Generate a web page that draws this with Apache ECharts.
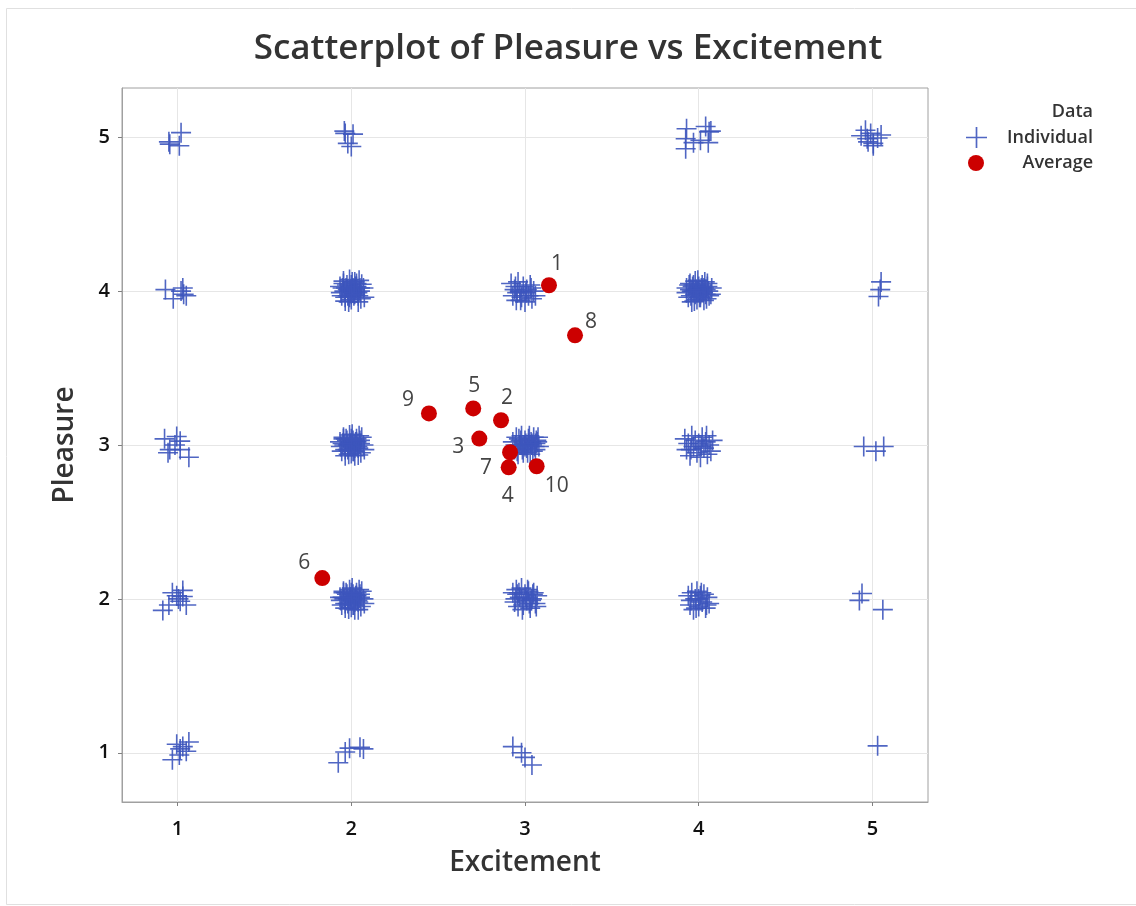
<!DOCTYPE html>
<html>
<head>
<meta charset="utf-8">
<script src="https://cdn.jsdelivr.net/npm/echarts@6/dist/echarts.min.js"></script>
<style>
html,body{margin:0;padding:0;background:#fff;}
#chart{width:1136px;height:906px;}
</style>
</head>
<body>
<div id="chart"></div>
<script>
// ---------- DATA ----------
const xTicks = [1, 2, 3, 4, 5];
const yTicks = [1, 2, 3, 4, 5];

// Individual (jittered) responses, grouped by cell [Excitement, Pleasure]
const cell_1_5 = [[1.02,5.03],[0.95,4.97],[1.01,4.945],[0.955,4.955]];
const cell_2_5 = [[1.96,5.04],[2.01,5.02],[2.00,4.94],[1.98,4.96],[1.965,5.025]];
const cell_4_5 = [[3.925,4.99],[3.925,4.925],[3.97,4.965],[4.01,4.98],[4.04,5.07],[4.055,4.965],[4.07,5.04],[4.06,5.035],[3.93,5.055]];
const cell_5_5 = [[4.935,5.01],[4.96,5.045],[4.97,4.99],[4.99,5.025],[5.005,4.96],[5.03,4.995],[5.05,5.015],[5.005,4.945],[4.975,4.97]];

const cell_1_4 = [[0.93,4.01],[0.975,3.95],[1.02,4.00],[1.035,3.98],[1.05,3.97],[1.03,4.02]];
const cell_2_4 = [[1.935,4.03],[1.945,3.97],[1.955,4.065],[1.965,3.935],[1.98,4.01],[1.99,4.075],[2.00,3.945],[2.01,4.02],[2.02,3.98],[2.03,4.05],[2.04,3.93],[2.05,4.00],[2.06,4.045],[2.075,3.96],[1.94,3.99],[1.955,4.05],[1.965,3.96],[1.975,4.04],[1.985,3.93],[1.995,4.00],[2.005,4.06],[2.015,3.97],[2.025,4.03],[2.035,3.99],[2.045,4.07],[2.055,3.95],[2.07,4.02],[1.96,4.00],[1.98,3.97],[2.00,4.04],[2.02,4.01],[2.04,3.97],[1.97,4.02],[2.01,3.99],[2.03,4.03],[1.99,3.96],[2.05,4.02],[1.95,4.02],[2.00,3.98],[2.02,4.06]];
const cell_3_4 = [[2.92,4.05],[2.93,3.97],[2.94,4.01],[2.95,3.94],[2.96,4.06],[2.97,4.00],[2.98,3.96],[2.99,4.03],[3.00,3.93],[3.01,4.01],[3.02,3.97],[3.03,4.04],[3.04,3.95],[3.05,4.00],[3.06,3.97],[2.945,4.03],[2.975,3.94],[3.005,3.99],[3.035,4.02],[2.955,3.99]];
const cell_4_4 = [[3.93,4.02],[3.94,3.96],[3.95,4.05],[3.96,3.93],[3.97,4.00],[3.98,4.065],[3.99,3.945],[4.00,4.03],[4.01,3.98],[4.02,4.04],[4.03,3.94],[4.04,4.01],[4.05,4.05],[4.06,3.97],[4.075,4.02],[3.93,3.99],[3.945,4.04],[3.955,3.97],[3.965,4.03],[3.975,3.935],[3.985,4.01],[3.995,4.07],[4.005,3.96],[4.015,4.02],[4.025,3.99],[4.035,4.06],[4.045,3.95],[4.055,4.00],[4.07,3.98],[3.96,4.00],[3.98,3.98],[4.00,4.01],[4.02,4.00],[4.04,3.98],[3.97,4.04],[4.01,3.96],[4.03,4.02],[3.99,4.00],[4.05,4.03],[3.95,4.01]];
const cell_5_4 = [[5.05,4.06],[5.045,4.01],[5.035,3.965]];

const cell_1_3 = [[0.925,3.04],[0.945,2.95],[0.985,3.00],[1.015,2.97],[1.065,2.92],[0.955,2.97],[0.995,3.055],[1.015,3.025]];
const cell_2_3 = [[1.935,3.02],[1.945,2.96],[1.955,3.05],[1.965,2.93],[1.98,3.00],[1.99,3.065],[2.00,2.945],[2.01,3.03],[2.02,2.98],[2.03,3.04],[2.04,2.935],[2.05,3.01],[2.06,3.05],[2.075,2.97],[1.94,2.99],[1.955,3.04],[1.965,2.97],[1.975,3.03],[1.985,2.94],[1.995,3.01],[2.005,3.07],[2.015,2.96],[2.025,3.02],[2.035,2.99],[2.045,3.06],[2.055,2.95],[2.07,3.00],[1.96,3.00],[1.98,2.97],[2.00,3.01],[2.02,3.00],[2.04,2.98],[1.97,3.04],[2.01,2.96],[2.03,3.02],[1.99,3.00],[2.05,3.03],[1.95,3.01],[2.00,3.04],[2.02,2.93]];
const cell_3_3 = [[2.93,3.02],[2.94,2.97],[2.95,3.05],[2.96,2.94],[2.97,3.00],[2.98,3.06],[2.99,2.95],[3.00,3.03],[3.01,2.98],[3.02,3.04],[3.03,2.94],[3.04,3.01],[3.05,3.05],[3.06,2.97],[3.07,3.02],[3.08,2.99],[2.945,3.00],[2.965,3.04],[2.985,2.97],[3.005,3.01],[3.025,3.06],[3.045,2.96],[3.065,3.03],[2.955,2.96],[2.975,3.03],[2.995,3.00],[3.015,2.95],[3.035,3.02],[3.055,2.99],[3.075,3.05],[3.00,2.99],[3.02,3.01],[2.98,3.00],[3.04,3.00],[3.06,3.01]];
const cell_4_3 = [[3.92,3.04],[3.93,2.97],[3.94,3.01],[3.95,2.93],[3.96,3.06],[3.97,2.99],[3.98,3.03],[3.99,2.95],[4.00,3.01],[4.01,2.92],[4.02,3.05],[4.03,2.98],[4.04,3.02],[4.05,2.94],[4.06,3.00],[4.07,2.96],[4.08,3.03],[3.955,2.97],[4.015,2.99],[4.045,3.06]];
const cell_5_3 = [[4.95,2.99],[5.02,2.96],[5.065,2.99]];

const cell_1_2 = [[0.915,1.925],[0.95,1.96],[0.97,2.04],[0.995,2.02],[1.015,1.985],[1.03,2.055],[1.05,1.96],[1.005,2.00],[1.03,2.015]];
const cell_2_2 = [[1.935,2.01],[1.945,1.96],[1.955,2.05],[1.965,1.94],[1.98,2.00],[1.99,2.06],[2.00,1.945],[2.01,2.03],[2.02,1.98],[2.03,2.04],[2.04,1.93],[2.05,2.01],[2.06,2.05],[2.075,1.97],[1.94,1.99],[1.955,2.04],[1.965,1.97],[1.975,2.03],[1.985,1.935],[1.995,2.01],[2.005,2.07],[2.015,1.96],[2.025,2.02],[2.035,1.99],[2.045,2.06],[2.055,1.95],[2.07,2.00],[1.96,2.00],[1.98,1.97],[2.00,2.01],[2.02,2.00],[2.04,1.98],[1.97,2.04],[2.01,1.96],[2.03,2.02],[1.99,2.00],[2.05,2.03],[1.95,2.01],[2.00,2.04],[2.02,1.93]];
const cell_3_2 = [[2.93,2.04],[2.94,1.98],[2.95,2.06],[2.96,1.95],[2.97,2.01],[2.98,2.07],[2.99,1.96],[3.00,2.03],[3.01,1.99],[3.02,2.05],[3.03,1.94],[3.04,2.00],[3.05,2.04],[3.06,1.97],[3.07,2.02],[2.945,2.00],[2.965,2.04],[2.985,1.93],[3.005,2.01],[3.025,1.97],[3.045,2.03],[3.065,1.95],[2.955,2.03],[3.015,2.06],[3.035,1.99]];
const cell_4_2 = [[3.94,2.02],[3.95,1.96],[3.96,2.04],[3.97,1.93],[3.98,2.00],[3.99,2.05],[4.00,1.95],[4.01,2.02],[4.02,1.98],[4.03,2.03],[4.04,1.94],[4.05,2.01],[4.06,1.97],[3.955,1.99],[3.985,1.94],[4.015,2.04],[4.045,1.96],[4.00,2.00]];
const cell_5_2 = [[4.925,1.99],[4.94,2.035],[5.06,1.93]];

const cell_1_1 = [[0.97,0.955],[0.995,1.055],[1.01,0.985],[1.03,1.04],[1.065,1.07],[1.05,1.01],[1.015,1.025]];
const cell_2_1 = [[1.925,0.935],[1.965,1.005],[1.99,1.03],[2.05,1.035],[2.07,1.025]];
const cell_3_1 = [[2.93,1.04],[2.98,1.00],[3.04,0.92],[3.00,0.97]];
const cell_5_1 = [[5.03,1.045]];

// Averages (one per respondent)
const avgLabels = ['1','2','3','4','5','6','7','8','9','10'];
const avgX = [3.138, 2.862, 2.737, 2.906, 2.702, 1.833, 2.914, 3.288, 2.447, 3.067];
const avgY = [4.038, 3.161, 3.042, 2.855, 3.238, 2.135, 2.953, 3.713, 3.205, 2.862];

// ---------- BUILD ----------
const individual = [].concat(
  cell_1_5, cell_2_5, cell_4_5, cell_5_5,
  cell_1_4, cell_2_4, cell_3_4, cell_4_4, cell_5_4,
  cell_1_3, cell_2_3, cell_3_3, cell_4_3, cell_5_3,
  cell_1_2, cell_2_2, cell_3_2, cell_4_2, cell_5_2,
  cell_1_1, cell_2_1, cell_3_1, cell_5_1
);

// label offsets (style only)
const labelOffsets = {
  '1': [8, -21], '2': [6, -22], '3': [-21, 8], '4': [-1, 29], '5': [1, -22],
  '6': [-18, -15], '7': [-24, 16], '8': [16, -13], '9': [-21, -13], '10': [20, 20]
};
const averageData = avgLabels.map((n, i) => ({
  value: [avgX[i], avgY[i]],
  name: n,
  label: { offset: labelOffsets[n] }
}));

const crossPath = 'path://M0,46H100V54H0Z M46,0H54V100H46Z';
const blue = '#3d55bd';
const red = '#cc0000';
const FONT = '"Open Sans", "Noto Sans", sans-serif';

const chart = echarts.init(document.getElementById('chart'), null, { renderer: 'canvas' });
chart.setOption({
  backgroundColor: '#fff',
  animation: false,
  title: {
    text: 'Scatterplot of Pleasure vs Excitement',
    left: 'center', top: 27,
    textStyle: { fontFamily: FONT, fontSize: 35, fontWeight: 600, color: '#333' }
  },
  grid: {
    left: 122, right: 208, top: 88, bottom: 104,
    show: true, borderColor: '#a0a0a0', borderWidth: 1, backgroundColor: '#fff'
  },
  xAxis: {
    type: 'value', min: 0.68, max: 5.32,
    name: 'Excitement', nameLocation: 'middle', nameGap: 47,
    nameTextStyle: { fontFamily: FONT, fontSize: 28, fontWeight: 600, color: '#333' },
    axisLine: { show: true, lineStyle: { color: '#a0a0a0' } },
    axisTick: { show: true, customValues: xTicks, length: 4, lineStyle: { color: '#808080' } },
    axisLabel: { customValues: xTicks, margin: 17, fontFamily: FONT, fontSize: 20, fontWeight: 600, color: '#111' },
    splitLine: { show: true, lineStyle: { color: '#e6e6e6' } }
  },
  yAxis: {
    type: 'value', min: 0.68, max: 5.32,
    name: 'Pleasure', nameLocation: 'middle', nameGap: 43, nameRotate: 90,
    nameTextStyle: { fontFamily: FONT, fontSize: 28, fontWeight: 600, color: '#333' },
    axisLine: { show: true, lineStyle: { color: '#a0a0a0' } },
    axisTick: { show: true, customValues: yTicks, length: 4, lineStyle: { color: '#808080' } },
    axisLabel: { customValues: yTicks, margin: 12, fontFamily: FONT, fontSize: 20, fontWeight: 600, color: '#111' },
    splitLine: { show: true, lineStyle: { color: '#e6e6e6' } }
  },
  legend: [
    {
      data: [{ name: 'Individual', icon: crossPath }],
      orient: 'vertical', left: 966, top: 127, padding: 0,
      itemWidth: 21, itemHeight: 21,
      formatter: '{t|{name}}',
      textStyle: { rich: { t: { width: 101, align: 'right', fontFamily: FONT, fontSize: 18, fontWeight: 600, color: '#333' } } }
    },
    {
      data: [{ name: 'Average', icon: 'circle' }],
      orient: 'vertical', left: 968, top: 154, padding: 0,
      itemWidth: 16, itemHeight: 16,
      formatter: '{t|{name}}',
      textStyle: { rich: { t: { width: 104, align: 'right', fontFamily: FONT, fontSize: 18, fontWeight: 600, color: '#333' } } }
    }
  ],
  graphic: [
    { type: 'rect', left: 4, top: 6, shape: { width: 1140, height: 896 }, style: { fill: 'none', stroke: '#e0e0e0', lineWidth: 1 }, silent: true, z: -10 },
    { type: 'text', right: 1136 - 1093, top: 103, style: { text: 'Data', fontFamily: FONT, fontSize: 18, fontWeight: 600, fill: '#333', textAlign: 'right' } }
  ],
  series: [
    {
      name: 'Individual', type: 'scatter',
      symbol: crossPath, symbolSize: 20,
      itemStyle: { color: blue, opacity: 0.9 },
      data: individual, z: 2
    },
    {
      name: 'Average', type: 'scatter',
      symbol: 'circle', symbolSize: 16,
      itemStyle: { color: red, opacity: 1 },
      label: {
        show: true, position: 'inside', formatter: '{b}',
        fontFamily: FONT, fontSize: 21, color: '#444', align: 'center', verticalAlign: 'middle'
      },
      data: averageData, z: 3
    }
  ]
});
</script>
</body>
</html>
